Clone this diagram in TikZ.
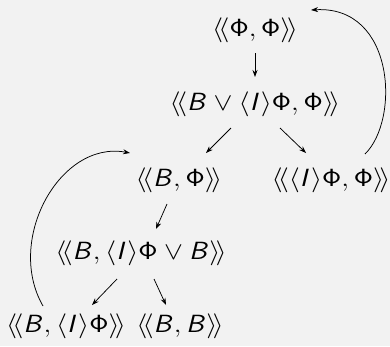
\documentclass[tikz,border=0pt]{standalone}
\usetikzlibrary{arrows.meta}
\DeclareMathAlphabet{\mathsfit}{OT1}{cmss}{m}{sl}
\newcommand{\LL}{\langle\!\langle}
\newcommand{\RR}{\rangle\!\rangle}
\newcommand{\sB}{\mathsfit{B}}
\newcommand{\sI}{\mathsfit{I}}
\newcommand{\sP}{\mathsf{\Phi}}
\newcommand{\wide}[1]{\scalebox{1.14}[1]{$#1$}}
\begin{document}
\begin{tikzpicture}[x=1pt,y=1pt,
  lbl/.style={inner sep=0pt, font=\fontsize{23}{28}\selectfont},
  arr/.style={line width=0.75pt, -{Stealth[length=7pt,width=5pt]}}]
\fill[fill={rgb,255:red,242;green,242;blue,242}] (0,0) rectangle (390,-346);
\useasboundingbox (0,0) rectangle (390,-346);
\node[lbl] (n1) at (255,-30) {\wide{\LL\sP,\sP\RR}};
\node[lbl] (n2) at (255,-104) {\wide{\LL\sB\vee\langle\sI\rangle\sP,\sP\RR}};
\node[lbl] (n3) at (179,-180) {\wide{\LL\sB,\sP\RR}};
\node[lbl] (n4) at (331,-180) {\wide{\LL\langle\sI\rangle\sP,\sP\RR}};
\node[lbl] (n5) at (141,-253) {\wide{\LL\sB,\langle\sI\rangle\sP\vee\sB\RR}};
\node[lbl] (n6) at (66,-326) {\wide{\LL\sB,\langle\sI\rangle\sP\RR}};
\node[lbl] (n7) at (180,-326) {\wide{\LL\sB,\sB\RR}};
\draw[arr] ([shift={(0,-23)}]n1.center) -- ([shift={(0,27)}]n2.center);
\draw[arr] ([shift={(-24,-24)}]n2.center) -- ([shift={(27,27)}]n3.center);
\draw[arr] ([shift={(25,-24)}]n2.center) -- ([shift={(-25,27)}]n4.center);
\draw[arr] ([shift={(-12,-24)}]n3.center) -- ([shift={(15,24)}]n5.center);
\draw[arr] ([shift={(-24,-26)}]n5.center) -- ([shift={(26,21)}]n6.center);
\draw[arr] ([shift={(13,-26)}]n5.center) -- ([shift={(-14,21)}]n7.center);
\draw[arr] ([shift={(34,26)}]n4.center) .. controls +(35,34) and +(84,5) .. ([shift={(56,20)}]n1.center);
\draw[arr] ([shift={(-23,20)}]n6.center) .. controls +(-38,66) and +(-70,13) .. ([shift={(-49,27)}]n3.center);
\end{tikzpicture}
\end{document}
